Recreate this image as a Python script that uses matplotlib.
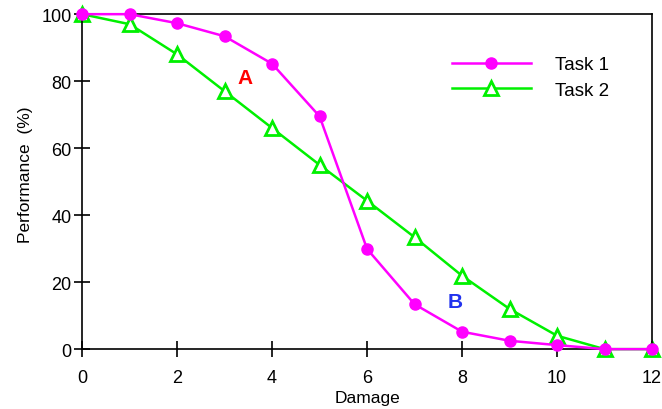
import matplotlib
matplotlib.use("Agg")
import matplotlib.pyplot as plt

damage = [0, 1, 2, 3, 4, 5, 6, 7, 8, 9, 10, 11, 12]
task1 = [100, 100, 97.3, 93.4, 85.2, 69.5, 29.9, 13.4, 5.2, 2.5, 1.2, 0, 0]
task2 = [100, 97, 88, 77, 66, 55, 44.3, 33.4, 21.9, 12, 4, 0, 0]

plt.rcParams['font.family'] = ['Liberation Sans', 'DejaVu Sans']

fig = plt.figure(figsize=(6.62, 4.10), dpi=100)
ax = fig.add_axes([0.124, 0.146, 0.861, 0.817])

ax.plot(damage, task1, color="#ff00ff", lw=1.8, marker="o", ms=8,
        label="Task 1", clip_on=False, zorder=3)
ax.plot(damage, task2, color="#00f000", lw=1.8, marker="^", ms=10,
        mfc="white", mec="#00f000", mew=2, label="Task 2", clip_on=False, zorder=2)

ax.text(3.43, 81, "A", color="red", fontsize=15, fontweight="bold",
        ha="center", va="center")
ax.text(7.85, 14.3, "B", color="#2233ee", fontsize=15, fontweight="bold",
        ha="center", va="center")

ax.set_xlim(0, 12)
ax.set_ylim(0, 100)
ax.set_xticks(range(0, 13, 2))
ax.set_yticks(range(0, 101, 20))
ax.tick_params(direction="inout", length=11, width=1.2, labelsize=13, pad=2)
ax.tick_params(axis="x", pad=9)
for s in ax.spines.values():
    s.set_linewidth(1.2)
ax.set_xlabel("Damage", fontsize=12.5, labelpad=3)
ax.set_ylabel("Performance  (%)", fontsize=12.5, labelpad=6)
ax.yaxis.label.set_y(0.525)

ax.legend(loc="upper left", bbox_to_anchor=(452 / 662, 1 - 57 / 410),
          bbox_transform=fig.transFigure, frameon=False, borderpad=0,
          borderaxespad=0, fontsize=13.5, handlelength=4.2,
          handletextpad=1.3, labelspacing=0.45)

fig.savefig("out.png", dpi=100)
